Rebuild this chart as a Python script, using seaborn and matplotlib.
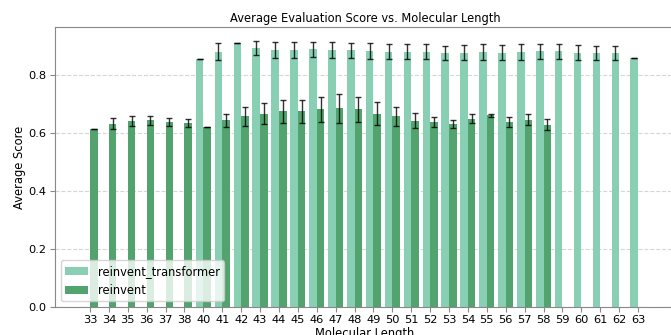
import pandas as pd
import matplotlib
matplotlib.use("Agg")
import matplotlib.pyplot as plt
import seaborn as sns
import numpy as np

# Молекулярные длины (39 отсутствует)
lengths = [33, 34, 35, 36, 37, 38, 40, 41, 42, 43, 44, 45, 46, 47, 48, 49, 50,
           51, 52, 53, 54, 55, 56, 57, 58, 59, 60, 61, 62, 63]

# reinvent_transformer: средний балл и разброс (None = нет данных)
transformer_mean = [None, None, None, None, None, None, 0.852, 0.879, 0.907, 0.892,
                    0.884, 0.885, 0.887, 0.884, 0.883, 0.882, 0.878, 0.878, 0.879,
                    0.875, 0.875, 0.878, 0.876, 0.878, 0.880, 0.880, 0.876, 0.875,
                    0.875, 0.856]
transformer_err = [None, None, None, None, None, None, 0.0, 0.029, 0.0, 0.025,
                   0.028, 0.028, 0.026, 0.028, 0.026, 0.028, 0.026, 0.026, 0.027,
                   0.025, 0.026, 0.028, 0.026, 0.028, 0.026, 0.026, 0.025, 0.024,
                   0.024, 0.0]

# reinvent
reinvent_mean = [0.613, 0.631, 0.641, 0.642, 0.637, 0.633, 0.620, 0.642, 0.656, 0.666,
                 0.673, 0.673, 0.680, 0.684, 0.680, 0.666, 0.656, 0.641, 0.636,
                 0.630, 0.648, 0.660, 0.638, 0.645, 0.628, None, None, None, None, None]
reinvent_err = [0.0, 0.018, 0.017, 0.016, 0.015, 0.013, 0.0, 0.024, 0.033, 0.036,
                0.038, 0.038, 0.043, 0.049, 0.044, 0.040, 0.034, 0.026, 0.018,
                0.013, 0.016, 0.005, 0.017, 0.018, 0.018, None, None, None, None, None]

models = ["reinvent_transformer", "reinvent"]
colors = {"reinvent_transformer": "#88cfb3", "reinvent": "#52a36e"}

rows = []
for name, means, errs in [("reinvent_transformer", transformer_mean, transformer_err),
                          ("reinvent", reinvent_mean, reinvent_err)]:
    for length, m, e in zip(lengths, means, errs):
        if m is not None:
            rows.append({"length": str(length), "score": m, "err": e, "model": name})
df = pd.DataFrame(rows)

fig = plt.figure(figsize=(6.71, 3.35), dpi=100)
ax = fig.add_axes([0.082, 0.0836, 0.924, 0.835])

order = [str(l) for l in lengths]
sns.barplot(data=df, x="length", y="score", hue="model", hue_order=models,
            order=order, palette=colors, saturation=1, errorbar=None, ax=ax, zorder=2)

# Планки погрешностей по позициям столбцов
for container, name in zip(ax.containers, models):
    sub = df[df["model"] == name].set_index("length")
    for bar in container:
        h = bar.get_height()
        if np.isnan(h):
            continue
        cx = bar.get_x() + bar.get_width() / 2
        idx = int(round(cx))
        err = sub.loc[order[idx], "err"]
        ax.errorbar(cx, h, yerr=err, fmt="none", ecolor="black", elinewidth=1,
                    capsize=2.5, capthick=1, alpha=0.8, zorder=3)

ax.set_xlim(-1.85, 30.96)
ax.set_title("Average Evaluation Score vs. Molecular Length", fontsize=8.3, pad=3.5)
ax.set_xlabel("Molecular Length", fontsize=8.3, labelpad=1)
ax.set_ylabel("Average Score", fontsize=8.3, labelpad=2)
ax.tick_params(labelsize=8.2, color="#888888", pad=2.5)
ax.yaxis.grid(True, linestyle="--", color="#cccccc", alpha=0.8, zorder=0)
ax.set_axisbelow(True)
for s in ax.spines.values():
    s.set_color("#888888")

ax.legend(loc="lower left", fontsize=8.3, title=None)

fig.savefig("out.png", dpi=100)
